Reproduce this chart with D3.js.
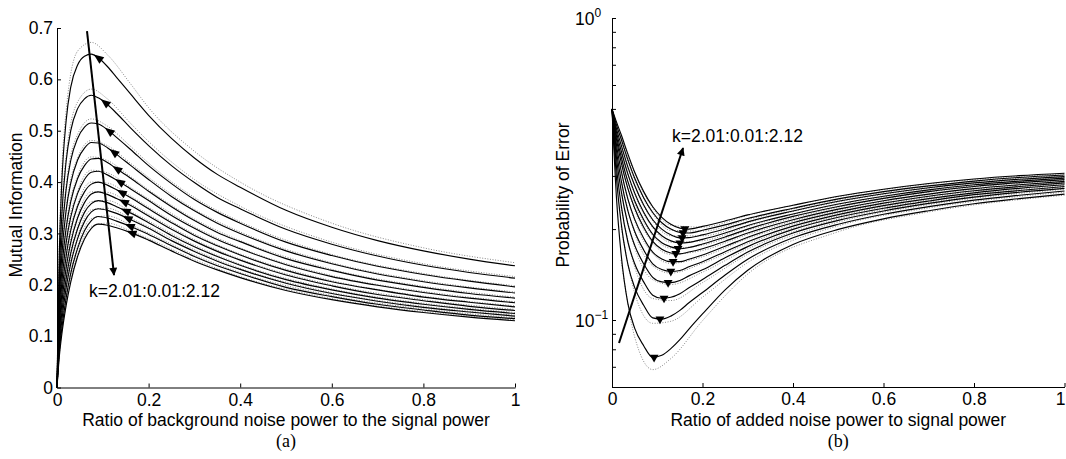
<!DOCTYPE html>
<html>
<head>
<meta charset="utf-8">
<script src="https://cdn.jsdelivr.net/npm/d3@7"></script>
<style>
  body { margin: 0; background: #fff; }
  svg text { font-family: "Liberation Sans", Arial, sans-serif; }
</style>
</head>
<body>
<div class="canva"></div>
<script>
// ---------- panel (a): mutual information ----------
const kLabel = "k=2.01:0.01:2.12";
const xTicks = [0, 0.2, 0.4, 0.6, 0.8, 1];
const miTicks = [0, 0.1, 0.2, 0.3, 0.4, 0.5, 0.6, 0.7];

const noiseA = [0, 0.005, 0.01, 0.02, 0.03, 0.045, 0.06, 0.075, 0.09, 0.11, 0.13, 0.16, 0.2, 0.25, 0.3, 0.35, 0.4, 0.5, 0.6, 0.7, 0.8, 0.9, 1.0];
const miCurves = [
  [0, 0.26, 0.39, 0.52, 0.585, 0.628, 0.645, 0.649, 0.642, 0.625, 0.604, 0.572, 0.53, 0.485, 0.447, 0.415, 0.39, 0.345, 0.312, 0.286, 0.266, 0.25, 0.237],
  [0, 0.217, 0.327, 0.441, 0.500, 0.543, 0.562, 0.569, 0.564, 0.551, 0.534, 0.506, 0.471, 0.432, 0.399, 0.370, 0.348, 0.308, 0.279, 0.256, 0.238, 0.224, 0.213],
  [0, 0.188, 0.283, 0.386, 0.442, 0.485, 0.507, 0.515, 0.513, 0.502, 0.487, 0.464, 0.432, 0.397, 0.366, 0.341, 0.320, 0.283, 0.257, 0.236, 0.220, 0.207, 0.196],
  [0, 0.165, 0.250, 0.345, 0.398, 0.443, 0.466, 0.477, 0.476, 0.467, 0.454, 0.433, 0.405, 0.372, 0.344, 0.320, 0.300, 0.266, 0.241, 0.221, 0.206, 0.194, 0.184],
  [0, 0.145, 0.222, 0.310, 0.362, 0.407, 0.432, 0.445, 0.446, 0.438, 0.426, 0.408, 0.382, 0.352, 0.325, 0.302, 0.284, 0.251, 0.228, 0.209, 0.195, 0.183, 0.174],
  [0, 0.129, 0.198, 0.282, 0.332, 0.378, 0.405, 0.419, 0.421, 0.414, 0.404, 0.387, 0.364, 0.335, 0.310, 0.288, 0.270, 0.239, 0.216, 0.199, 0.185, 0.174, 0.165],
  [0, 0.115, 0.177, 0.256, 0.306, 0.353, 0.381, 0.396, 0.400, 0.394, 0.385, 0.370, 0.348, 0.321, 0.296, 0.276, 0.258, 0.228, 0.206, 0.190, 0.176, 0.166, 0.157],
  [0, 0.102, 0.159, 0.233, 0.282, 0.330, 0.360, 0.377, 0.381, 0.376, 0.368, 0.355, 0.334, 0.308, 0.285, 0.265, 0.248, 0.219, 0.198, 0.181, 0.169, 0.158, 0.150],
  [0, 0.090, 0.141, 0.212, 0.261, 0.309, 0.341, 0.358, 0.364, 0.360, 0.352, 0.340, 0.321, 0.296, 0.274, 0.255, 0.238, 0.210, 0.190, 0.174, 0.162, 0.152, 0.144],
  [0, 0.080, 0.126, 0.194, 0.241, 0.290, 0.323, 0.342, 0.348, 0.345, 0.339, 0.327, 0.310, 0.286, 0.265, 0.246, 0.230, 0.203, 0.183, 0.168, 0.156, 0.147, 0.139],
  [0, 0.070, 0.111, 0.175, 0.222, 0.271, 0.305, 0.325, 0.333, 0.330, 0.324, 0.314, 0.298, 0.276, 0.255, 0.237, 0.222, 0.195, 0.177, 0.162, 0.151, 0.141, 0.134],
  [0, 0.060, 0.100, 0.160, 0.205, 0.255, 0.289, 0.310, 0.318, 0.316, 0.311, 0.302, 0.287, 0.266, 0.246, 0.229, 0.214, 0.189, 0.171, 0.157, 0.146, 0.137, 0.130]
];
// simulated (dotted) curves
const noiseAsim = [0, 0.005, 0.02, 0.045, 0.075, 0.11, 0.16, 0.2, 0.3, 0.4, 0.6, 0.8, 1.0];
const miSim = [
  [0, 0.28, 0.54, 0.655, 0.672, 0.648, 0.592, 0.545, 0.46, 0.40, 0.32, 0.272, 0.243],
  [0, 0.225, 0.452, 0.556, 0.581, 0.562, 0.515, 0.479, 0.405, 0.353, 0.283, 0.241, 0.216],
  [0, 0.193, 0.394, 0.493, 0.523, 0.509, 0.470, 0.437, 0.370, 0.323, 0.259, 0.222, 0.198],
  [0, 0.169, 0.349, 0.447, 0.481, 0.471, 0.437, 0.409, 0.347, 0.303, 0.243, 0.208, 0.186],
  [0, 0.149, 0.314, 0.411, 0.449, 0.442, 0.411, 0.385, 0.328, 0.286, 0.230, 0.197, 0.176],
  [0, 0.132, 0.286, 0.382, 0.423, 0.418, 0.390, 0.367, 0.313, 0.272, 0.218, 0.187, 0.167],
  [0, 0.118, 0.260, 0.357, 0.400, 0.398, 0.373, 0.351, 0.299, 0.260, 0.208, 0.178, 0.159],
  [0, 0.105, 0.237, 0.334, 0.381, 0.380, 0.358, 0.337, 0.288, 0.250, 0.200, 0.171, 0.152],
  [0, 0.093, 0.216, 0.313, 0.362, 0.364, 0.343, 0.324, 0.277, 0.240, 0.192, 0.164, 0.146],
  [0, 0.083, 0.198, 0.294, 0.346, 0.349, 0.330, 0.313, 0.268, 0.232, 0.185, 0.158, 0.141],
  [0, 0.073, 0.179, 0.275, 0.329, 0.334, 0.317, 0.301, 0.258, 0.224, 0.179, 0.153, 0.136],
  [0, 0.063, 0.164, 0.259, 0.314, 0.320, 0.305, 0.290, 0.249, 0.216, 0.173, 0.148, 0.132]
];
const markNoiseA = [0.090, 0.105, 0.114, 0.124, 0.131, 0.137, 0.141, 0.146, 0.150, 0.154, 0.159, 0.163];
const arrowA = [[0.0655, 0.694], [0.1245, 0.219]];
const labelA = [0.07, 0.176];

// ---------- panel (b): probability of error ----------
const peTicks = [0.06, 0.07, 0.08, 0.09, 0.1, 0.2, 0.3, 0.4, 0.5, 0.6, 0.7, 0.8, 0.9, 1];
const peLabelTicks = [{v: 1, e: "0"}, {v: 0.1, e: "\u22121"}];
const noiseB = [0, 0.01, 0.02, 0.035, 0.05, 0.07, 0.09, 0.11, 0.13, 0.15, 0.17, 0.2, 0.25, 0.3, 0.4, 0.5, 0.6, 0.7, 0.8, 0.9, 1.0];
const peCurves = [
  [0.5, 0.2523, 0.1660, 0.1135, 0.0940, 0.0822, 0.0752, 0.0764, 0.0804, 0.0861, 0.0933, 0.1047, 0.1259, 0.1462, 0.1778, 0.1995, 0.2163, 0.2301, 0.2427, 0.2523, 0.2612],
  [0.5, 0.2938, 0.2104, 0.1531, 0.1282, 0.1119, 0.1016, 0.1007, 0.1030, 0.1076, 0.1140, 0.1233, 0.1409, 0.1589, 0.1871, 0.2075, 0.2239, 0.2373, 0.2495, 0.2588, 0.2673],
  [0.5, 0.3206, 0.2415, 0.1816, 0.1538, 0.1337, 0.1208, 0.1180, 0.1189, 0.1222, 0.1279, 0.1361, 0.1517, 0.1679, 0.1941, 0.2138, 0.2296, 0.2432, 0.2553, 0.2649, 0.2729],
  [0.5, 0.3436, 0.2692, 0.2080, 0.1770, 0.1535, 0.1384, 0.1337, 0.1330, 0.1352, 0.1400, 0.1466, 0.1607, 0.1750, 0.1995, 0.2188, 0.2344, 0.2477, 0.2600, 0.2685, 0.2767],
  [0.5, 0.3622, 0.2917, 0.2301, 0.1968, 0.1706, 0.1535, 0.1469, 0.1449, 0.1459, 0.1500, 0.1560, 0.1683, 0.1816, 0.2046, 0.2234, 0.2393, 0.2523, 0.2636, 0.2729, 0.2805],
  [0.5, 0.3793, 0.3133, 0.2518, 0.2158, 0.1866, 0.1679, 0.1592, 0.1560, 0.1560, 0.1589, 0.1641, 0.1754, 0.1879, 0.2099, 0.2280, 0.2438, 0.2570, 0.2679, 0.2767, 0.2844],
  [0.5, 0.3954, 0.3342, 0.2729, 0.2350, 0.2028, 0.1820, 0.1714, 0.1667, 0.1656, 0.1679, 0.1722, 0.1824, 0.1941, 0.2148, 0.2328, 0.2483, 0.2612, 0.2723, 0.2805, 0.2877],
  [0.5, 0.4064, 0.3491, 0.2877, 0.2483, 0.2148, 0.1923, 0.1803, 0.1746, 0.1722, 0.1738, 0.1786, 0.1884, 0.2000, 0.2203, 0.2377, 0.2529, 0.2661, 0.2767, 0.2851, 0.2917],
  [0.5, 0.4178, 0.3648, 0.3048, 0.2636, 0.2275, 0.2037, 0.1901, 0.1828, 0.1799, 0.1807, 0.1849, 0.1941, 0.2056, 0.2244, 0.2421, 0.2570, 0.2698, 0.2805, 0.2884, 0.2951],
  [0.5, 0.4295, 0.3811, 0.3214, 0.2793, 0.2404, 0.2148, 0.2000, 0.1914, 0.1871, 0.1875, 0.1914, 0.2004, 0.2113, 0.2296, 0.2472, 0.2618, 0.2742, 0.2844, 0.2924, 0.2985],
  [0.5, 0.4416, 0.3981, 0.3396, 0.2951, 0.2541, 0.2270, 0.2099, 0.2000, 0.1950, 0.1941, 0.1982, 0.2065, 0.2168, 0.2344, 0.2518, 0.2661, 0.2780, 0.2884, 0.2965, 0.3020],
  [0.5, 0.4519, 0.4121, 0.3548, 0.3090, 0.2661, 0.2371, 0.2188, 0.2075, 0.2014, 0.2000, 0.2042, 0.2128, 0.2228, 0.2399, 0.2570, 0.2710, 0.2831, 0.2931, 0.3006, 0.3062]
];
const noiseBsim = [0.02, 0.05, 0.09, 0.13, 0.2, 0.3, 0.5, 0.7, 1.0];
const peSim = [
  [0.158, 0.088, 0.0685, 0.0745, 0.0995, 0.142, 0.196, 0.228, 0.259],
  [0.204, 0.123, 0.0975, 0.099, 0.119, 0.155, 0.205, 0.235, 0.265],
  [0.236, 0.150, 0.1178, 0.116, 0.133, 0.165, 0.211, 0.241, 0.271],
  [0.264, 0.174, 0.136, 0.131, 0.144, 0.172, 0.216, 0.245, 0.275],
  [0.287, 0.194, 0.151, 0.143, 0.154, 0.179, 0.221, 0.250, 0.279],
  [0.309, 0.213, 0.166, 0.154, 0.162, 0.186, 0.226, 0.255, 0.283],
  [0.330, 0.232, 0.180, 0.165, 0.170, 0.192, 0.231, 0.260, 0.286],
  [0.345, 0.245, 0.190, 0.173, 0.177, 0.198, 0.236, 0.265, 0.290],
  [0.361, 0.261, 0.202, 0.181, 0.183, 0.204, 0.241, 0.268, 0.294],
  [0.377, 0.277, 0.213, 0.190, 0.190, 0.210, 0.246, 0.273, 0.297],
  [0.394, 0.292, 0.225, 0.198, 0.197, 0.215, 0.250, 0.277, 0.301],
  [0.408, 0.306, 0.235, 0.206, 0.203, 0.222, 0.256, 0.282, 0.305]
];
const markNoiseB = [0.093, 0.106, 0.115, 0.124, 0.130, 0.135, 0.141, 0.146, 0.150, 0.155, 0.157, 0.161];
const arrowB = [[0.0155, 0.0839], [0.157, 0.371]];
const labelB = [0.1326, 0.389];

const fontSize = 17.5;

const svg = d3.select(".canva").append("svg")
    .attr("width", 1066)
    .attr("height", 459);

svg.append("defs").append("marker")
    .attr("id", "head")
    .attr("viewBox", "0 0 10 10")
    .attr("refX", 9).attr("refY", 5)
    .attr("markerWidth", 12).attr("markerHeight", 8)
    .attr("markerUnits", "userSpaceOnUse")
    .attr("orient", "auto")
  .append("path")
    .attr("d", "M0,0L10,5L0,10z")
    .attr("fill", "#000");

// scales
var xA = d3.scaleLinear().domain([0, 1]).range([57, 515]);
var yA = d3.scaleLinear().domain([0, 0.7]).range([387.5, 28]);
var xB = d3.scaleLinear().domain([0, 1]).range([612, 1064.5]);
var yB = d3.scaleLog().domain([0.06, 1]).range([387, 18]);

function styleAxis(g) {
  g.attr("font-size", fontSize).attr("font-family", "Liberation Sans, Arial, sans-serif");
  g.selectAll("path.domain").attr("stroke", "#000").attr("stroke-width", 1);
  g.selectAll(".tick line").attr("stroke", "#000");
  g.selectAll(".tick text").attr("fill", "#000");
}

// find the length along a path where its x equals px
function lengthAtX(node, px) {
  let lo = 0, hi = node.getTotalLength();
  for (let i = 0; i < 30; i++) {
    const mid = (lo + hi) / 2;
    if (node.getPointAtLength(mid).x < px) lo = mid; else hi = mid;
  }
  return (lo + hi) / 2;
}

// ================= panel (a) =================
const gA = svg.append("g");

var lineA = d3.line()
    .x((d, i) => xA(noiseA[i]))
    .y(d => yA(d))
    .curve(d3.curveMonotoneX);
var lineAsim = d3.line()
    .x((d, i) => xA(noiseAsim[i]))
    .y(d => yA(d))
    .curve(d3.curveMonotoneX);

gA.selectAll(".sim")
    .data(miSim)
    .enter().append("path")
    .attr("class", "sim")
    .attr("d", lineAsim)
    .attr("fill", "none")
    .attr("stroke", "#888")
    .attr("stroke-width", 1)
    .attr("stroke-dasharray", "1,1.6");

var pathsA = gA.selectAll(".curve")
    .data(miCurves)
    .enter().append("path")
    .attr("class", "curve")
    .attr("d", lineA)
    .attr("fill", "none")
    .attr("stroke", "#000")
    .attr("stroke-width", 1.15);

// arrowhead markers along each curve, pointing back up the curve
pathsA.each(function(d, i) {
  const len = lengthAtX(this, xA(markNoiseA[i]));
  const p = this.getPointAtLength(len);
  const a = this.getPointAtLength(Math.max(0, len - 2));
  const b = this.getPointAtLength(len + 2);
  const ang = Math.atan2(a.y - b.y, a.x - b.x) * 180 / Math.PI;
  gA.append("path")
    .attr("d", "M5.5,0L-4.5,-4L-4.5,4Z")
    .attr("transform", `translate(${p.x},${p.y}) rotate(${ang})`)
    .attr("fill", "#000");
});

gA.append("g")
    .attr("transform", "translate(0," + yA(0) + ")")
    .call(d3.axisBottom(xA).tickValues(xTicks).tickFormat(d => String(d))
        .tickSizeInner(-4).tickSizeOuter(0).tickPadding(6))
    .call(styleAxis);

gA.append("g")
    .attr("transform", "translate(" + xA(0) + ",0)")
    .call(d3.axisLeft(yA).tickValues(miTicks).tickFormat(d => String(d))
        .tickSizeInner(-4).tickSizeOuter(0).tickPadding(4))
    .call(styleAxis);

gA.append("line")
    .attr("x1", xA(arrowA[0][0])).attr("y1", yA(arrowA[0][1]))
    .attr("x2", xA(arrowA[1][0])).attr("y2", yA(arrowA[1][1]))
    .attr("stroke", "#000").attr("stroke-width", 2)
    .attr("marker-end", "url(#head)");

gA.append("text")
    .attr("x", xA(labelA[0])).attr("y", yA(labelA[1]))
    .attr("font-size", fontSize)
    .text(kLabel);

gA.append("text")
    .attr("transform", "translate(22,205) rotate(-90)")
    .attr("text-anchor", "middle")
    .attr("font-size", fontSize)
    .text("Mutual Information");

gA.append("text")
    .attr("x", (xA(0) + xA(1)) / 2).attr("y", 426)
    .attr("text-anchor", "middle")
    .attr("font-size", fontSize)
    .text("Ratio of background noise power to the signal power");

gA.append("text")
    .attr("x", (xA(0) + xA(1)) / 2).attr("y", 447)
    .attr("text-anchor", "middle")
    .attr("font-size", 18)
    .style("font-family", "Liberation Serif, Times New Roman, serif")
    .text("(a)");

// ================= panel (b) =================
const gB = svg.append("g");

var lineB = d3.line()
    .x((d, i) => xB(noiseB[i]))
    .y(d => yB(d))
    .curve(d3.curveMonotoneX);
var lineBsim = d3.line()
    .x((d, i) => xB(noiseBsim[i]))
    .y(d => yB(d))
    .curve(d3.curveMonotoneX);

gB.selectAll(".sim")
    .data(peSim)
    .enter().append("path")
    .attr("class", "sim")
    .attr("d", lineBsim)
    .attr("fill", "none")
    .attr("stroke", "#888")
    .attr("stroke-width", 1)
    .attr("stroke-dasharray", "1,1.6");

var pathsB = gB.selectAll(".curve")
    .data(peCurves)
    .enter().append("path")
    .attr("class", "curve")
    .attr("d", lineB)
    .attr("fill", "none")
    .attr("stroke", "#000")
    .attr("stroke-width", 1.15);

var tri = d3.symbol(d3.symbolTriangle, 34);
pathsB.each(function(d, i) {
  const p = this.getPointAtLength(lengthAtX(this, xB(markNoiseB[i])));
  gB.append("path")
    .attr("d", tri)
    .attr("transform", `translate(${p.x},${p.y}) rotate(180)`)
    .attr("fill", "#000");
});

var xAxisB = gB.append("g")
    .attr("transform", "translate(0," + yB(0.06) + ")")
    .call(d3.axisBottom(xB).tickValues(xTicks).tickFormat(d => String(d))
        .tickSizeInner(-4).tickSizeOuter(0).tickPadding(6))
    .call(styleAxis);
// keep the last label inside the page
xAxisB.selectAll(".tick text").filter(d => d === 1).attr("text-anchor", "end").attr("dx", 0.5);

gB.append("g")
    .attr("transform", "translate(" + xB(0) + ",0)")
    .call(d3.axisLeft(yB).tickValues(peTicks).tickFormat(() => "")
        .tickSizeInner(-4).tickSizeOuter(0))
    .call(styleAxis);

// 10^n labels
var expLabels = gB.selectAll(".explabel")
    .data(peLabelTicks)
    .enter().append("text")
    .attr("class", "explabel")
    .attr("x", xB(0) - 37)
    .attr("y", d => yB(d.v) + 7)
    .attr("font-size", fontSize);
expLabels.append("tspan").text("10");
expLabels.append("tspan")
    .attr("dy", -8)
    .attr("font-size", 12)
    .text(d => d.e);

gB.append("line")
    .attr("x1", xB(arrowB[0][0])).attr("y1", yB(arrowB[0][1]))
    .attr("x2", xB(arrowB[1][0])).attr("y2", yB(arrowB[1][1]))
    .attr("stroke", "#000").attr("stroke-width", 2)
    .attr("marker-end", "url(#head)");

gB.append("text")
    .attr("x", xB(labelB[0])).attr("y", yB(labelB[1]))
    .attr("font-size", fontSize)
    .text(kLabel);

gB.append("text")
    .attr("transform", "translate(569,195) rotate(-90)")
    .attr("text-anchor", "middle")
    .attr("font-size", fontSize)
    .text("Probability of Error");

gB.append("text")
    .attr("x", (xB(0) + xB(1)) / 2).attr("y", 426)
    .attr("text-anchor", "middle")
    .attr("font-size", fontSize)
    .text("Ratio of added noise power to signal power");

gB.append("text")
    .attr("x", (xB(0) + xB(1)) / 2).attr("y", 447)
    .attr("text-anchor", "middle")
    .attr("font-size", 18)
    .style("font-family", "Liberation Serif, Times New Roman, serif")
    .text("(b)");
</script>
</body>
</html>
